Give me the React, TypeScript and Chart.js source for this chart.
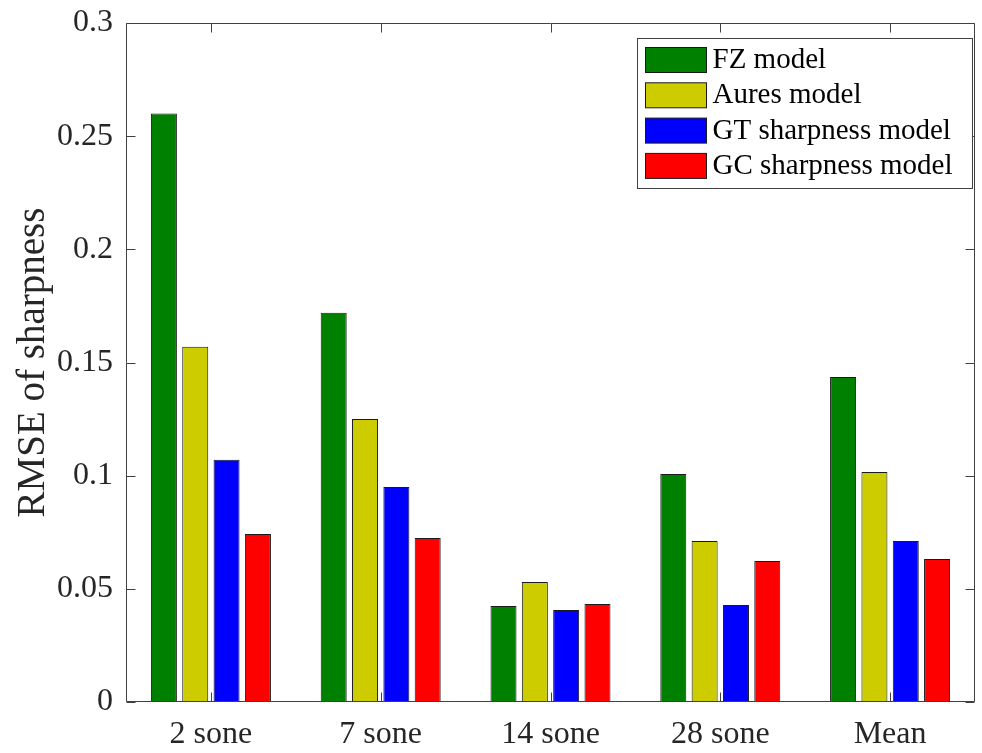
import React, { useEffect, useRef } from 'react';
import { Chart, registerables } from 'chart.js';

Chart.register(...registerables);

const categories = ['2 sone', '7 sone', '14 sone', '28 sone', 'Mean'];
const fzModel = [0.26, 0.172, 0.0424, 0.1007, 0.1436];
const auresModel = [0.157, 0.125, 0.053, 0.0711, 0.1016];
const gtModel = [0.107, 0.095, 0.0407, 0.0429, 0.0711];
const gcModel = [0.0742, 0.0725, 0.0433, 0.0623, 0.0632];
const seriesLabels = ['FZ model', 'Aures model', 'GT sharpness model', 'GC sharpness model'];
const seriesColors = ['#008000', '#cccc00', '#0000ff', '#ff0000'];
const yTicks = [0, 0.05, 0.1, 0.15, 0.2, 0.25, 0.3];
const yTitle = 'RMSE of sharpness';

const FONT = "'Liberation Serif', 'Times New Roman', serif";
const AXIS = '#404040';
const TEXT = '#262626';

const framePlugin = {
  id: 'frame',
  afterDatasetsDraw(chart: any) {
    const { ctx, chartArea: a, scales } = chart;
    const L = Math.round(a.left) + 0.5;
    const R = Math.round(a.right) - 0.5;
    const T = Math.round(a.top) + 0.5;
    const B = Math.round(a.bottom) - 0.5;
    ctx.save();
    ctx.strokeStyle = AXIS;
    ctx.lineWidth = 1;
    ctx.beginPath();
    ctx.rect(L, T, R - L, B - T);
    const tl = 9;
    yTicks.forEach((v) => {
      const py = Math.round(scales.y.getPixelForValue(v)) + 0.5;
      ctx.moveTo(L, py);
      ctx.lineTo(L + tl, py);
      ctx.moveTo(R, py);
      ctx.lineTo(R - tl, py);
    });
    categories.forEach((_, i) => {
      const px = Math.round(scales.x.getPixelForValue(i)) + 0.5;
      ctx.moveTo(px, B);
      ctx.lineTo(px, B - tl);
      ctx.moveTo(px, T);
      ctx.lineTo(px, T + tl);
    });
    ctx.stroke();
    ctx.restore();
  },
  afterDraw(chart: any) {
    const { ctx, chartArea: a } = chart;
    const w = 335;
    const h = 150;
    const x = Math.round(a.right) - 338 + 0.5;
    const y = Math.round(a.top) + 15 + 0.5;
    ctx.save();
    ctx.fillStyle = '#ffffff';
    ctx.strokeStyle = AXIS;
    ctx.lineWidth = 1;
    ctx.fillRect(x, y, w, h);
    ctx.strokeRect(x, y, w, h);
    ctx.font = `29px ${FONT}`;
    ctx.textBaseline = 'middle';
    ctx.textAlign = 'left';
    chart.data.datasets.forEach((ds: any, i: number) => {
      const ry = y + 9 + i * 35.3;
      ctx.fillStyle = ds.backgroundColor;
      ctx.fillRect(x + 8, ry, 61, 25);
      ctx.strokeStyle = '#1a1a1a';
      ctx.strokeRect(x + 8, ry, 61, 25);
      ctx.fillStyle = '#000000';
      ctx.fillText(ds.label, x + 75, ry + 13);
    });
    ctx.restore();
  },
};

export default function App() {
  const ref = useRef<HTMLCanvasElement | null>(null);

  useEffect(() => {
    if (!ref.current) return;
    const seriesData = [fzModel, auresModel, gtModel, gcModel];
    const chart = new Chart(ref.current, {
      type: 'bar',
      data: {
        labels: categories,
        datasets: seriesLabels.map((label, i) => ({
          label,
          data: seriesData[i],
          backgroundColor: seriesColors[i],
          borderColor: '#1a1a1a',
          borderWidth: 1,
          borderSkipped: false,
          categoryPercentage: 0.738,
          barPercentage: 0.83,
        })),
      },
      options: {
        responsive: false,
        animation: false,
        layout: { padding: { left: 0, top: 23, right: 7, bottom: 0 } },
        plugins: {
          legend: { display: false },
          tooltip: { enabled: false },
        },
        scales: {
          x: {
            type: 'category',
            offset: true,
            grid: { display: false, drawTicks: false },
            border: { display: false },
            ticks: {
              color: TEXT,
              font: { family: FONT, size: 32 },
              padding: 13,
              maxRotation: 0,
            },
            afterFit(scale: any) {
              scale.height = 51;
              scale.paddingLeft = 0;
              scale.paddingRight = 0;
            },
          },
          y: {
            min: 0,
            max: 0.3,
            grid: { display: false, drawTicks: false },
            border: { display: false },
            afterBuildTicks(scale: any) {
              scale.ticks = yTicks.map((v) => ({ value: v }));
            },
            ticks: {
              color: TEXT,
              font: { family: FONT, size: 32 },
              padding: 13,
              callback: (v: any) => String(Number(Number(v).toFixed(2))),
            },
            title: {
              display: true,
              text: yTitle,
              color: TEXT,
              font: { family: FONT, size: 39 },
              padding: { top: 10, bottom: 0 },
            },
            afterFit(scale: any) {
              scale.width = 126;
              scale.paddingTop = 0;
              scale.paddingBottom = 0;
            },
          },
        },
      },
      plugins: [framePlugin],
    } as any);
    return () => chart.destroy();
  }, []);

  return (
    <div style={{ position: 'absolute', left: 0, top: 0, width: 982, height: 753, background: '#ffffff' }}>
      <canvas ref={ref} width={982} height={753} style={{ display: 'block' }} />
    </div>
  );
}
